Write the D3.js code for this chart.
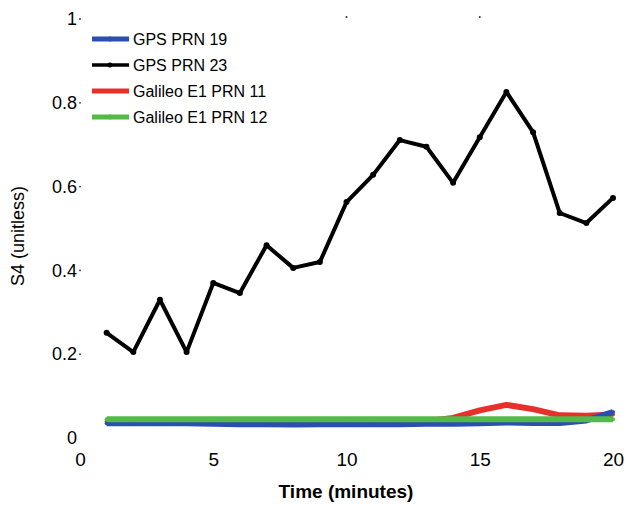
<!DOCTYPE html>
<html>
<head>
<meta charset="utf-8">
<script src="https://cdn.jsdelivr.net/npm/d3@7"></script>
<style>
  html, body { margin: 0; padding: 0; background: #fff; }
  svg text { font-family: "Liberation Sans", Arial, sans-serif; fill: #000; }
</style>
</head>
<body>
<svg id="chart" width="627" height="506"></svg>
<script>
// Time in minutes
const minutes = [1,2,3,4,5,6,7,8,9,10,11,12,13,14,15,16,17,18,19,20];

// S4 scintillation index per satellite
const gps19 = [0.035,0.035,0.035,0.035,0.034,0.033,0.033,0.032,0.033,0.033,0.033,0.033,0.034,0.034,0.035,0.037,0.036,0.036,0.042,0.062];
const gps23 = [0.251,0.205,0.33,0.205,0.37,0.346,0.46,0.406,0.42,0.563,0.628,0.711,0.695,0.609,0.718,0.826,0.73,0.537,0.513,0.573];
const gal11 = [0.040,0.040,0.040,0.040,0.040,0.040,0.040,0.040,0.040,0.040,0.040,0.040,0.040,0.048,0.066,0.079,0.069,0.054,0.053,0.056];
const gal12 = [0.045,0.045,0.045,0.045,0.045,0.045,0.045,0.045,0.045,0.045,0.045,0.045,0.045,0.045,0.045,0.045,0.045,0.045,0.045,0.045];

const seriesNames = ["GPS PRN 19", "GPS PRN 23", "Galileo E1 PRN 11", "Galileo E1 PRN 12"];
const seriesColors = ["#2b4fb0", "#000000", "#e8302a", "#55b948"];

const xTicks = [0, 5, 10, 15, 20];
const yTicks = [0, 0.2, 0.4, 0.6, 0.8, 1];

const svg = d3.select("#chart");

const x = d3.scaleLinear().domain([0, 20]).range([80, 613]);
const y = d3.scaleLinear().domain([0, 1]).range([438, 19]);

// Tick labels (no axis lines, only small tick dots)
const xAxis = d3.axisBottom(x).tickValues(xTicks).tickFormat(d3.format("d")).tickSize(0).tickPadding(0);
const gx = svg.append("g").attr("transform", "translate(0,452)").call(xAxis);
gx.select(".domain").remove();
gx.selectAll("text").attr("font-size", 19).attr("dy", "0.71em");

const yAxis = d3.axisLeft(y).tickValues(yTicks).tickFormat(d3.format("")).tickSize(0).tickPadding(0);
const gy = svg.append("g").attr("transform", "translate(77,0)").call(yAxis);
gy.select(".domain").remove();
gy.selectAll("text").attr("font-size", 18).attr("dy", "0.32em");

// small tick dots next to y labels
svg.append("g").selectAll("circle").data(yTicks.filter(d => d > 0)).join("circle")
  .attr("cx", 80).attr("cy", d => y(d)).attr("r", 0.9).attr("fill", "#333");

// small tick dots along the top edge
svg.append("g").selectAll("circle").data([10, 15]).join("circle")
  .attr("cx", d => x(d)).attr("cy", 17).attr("r", 1).attr("fill", "#333");

// Axis titles
svg.append("text")
  .attr("x", 346).attr("y", 498)
  .attr("text-anchor", "middle").attr("font-size", 19).attr("font-weight", "bold")
  .text("Time (minutes)");

svg.append("text")
  .attr("transform", "translate(24,236) rotate(-90)")
  .attr("text-anchor", "middle").attr("font-size", 18)
  .text("S4 (unitless)");

// Series lines
const line = d3.line().x((d, i) => x(minutes[i])).y(d => y(d));
const allSeries = [gps19, gps23, gal11, gal12];
const widths = [6, 4, 6, 6];
const order = [1, 2, 0, 3];

order.forEach(k => {
  svg.append("path")
    .datum(allSeries[k])
    .attr("fill", "none")
    .attr("stroke", seriesColors[k])
    .attr("stroke-width", widths[k])
    .attr("stroke-linejoin", "round")
    .attr("d", line);
  svg.append("g").selectAll("circle").data(allSeries[k]).join("circle")
    .attr("cx", (d, i) => x(minutes[i]))
    .attr("cy", d => y(d))
    .attr("r", k === 1 ? 3 : 2)
    .attr("fill", k === 1 ? "#000" : seriesColors[k]);
});

// Legend
const legend = svg.append("g");
const rowY = [39, 65, 91, 117];
seriesNames.forEach((name, i) => {
  const g = legend.append("g").attr("transform", `translate(0,${rowY[i]})`);
  g.append("line").attr("x1", 92).attr("x2", 129).attr("y1", 0).attr("y2", 0)
    .attr("stroke", seriesColors[i]).attr("stroke-width", i === 1 ? 3.5 : 5);
  if (i === 1 || i === 3 || i === 0) {
    g.append("circle").attr("cx", 110).attr("cy", 0).attr("r", 2.5).attr("fill", seriesColors[i]);
  }
  g.append("text").attr("x", 133).attr("y", 0).attr("dy", "0.35em")
    .attr("font-size", 16).text(name);
});
</script>
</body>
</html>
